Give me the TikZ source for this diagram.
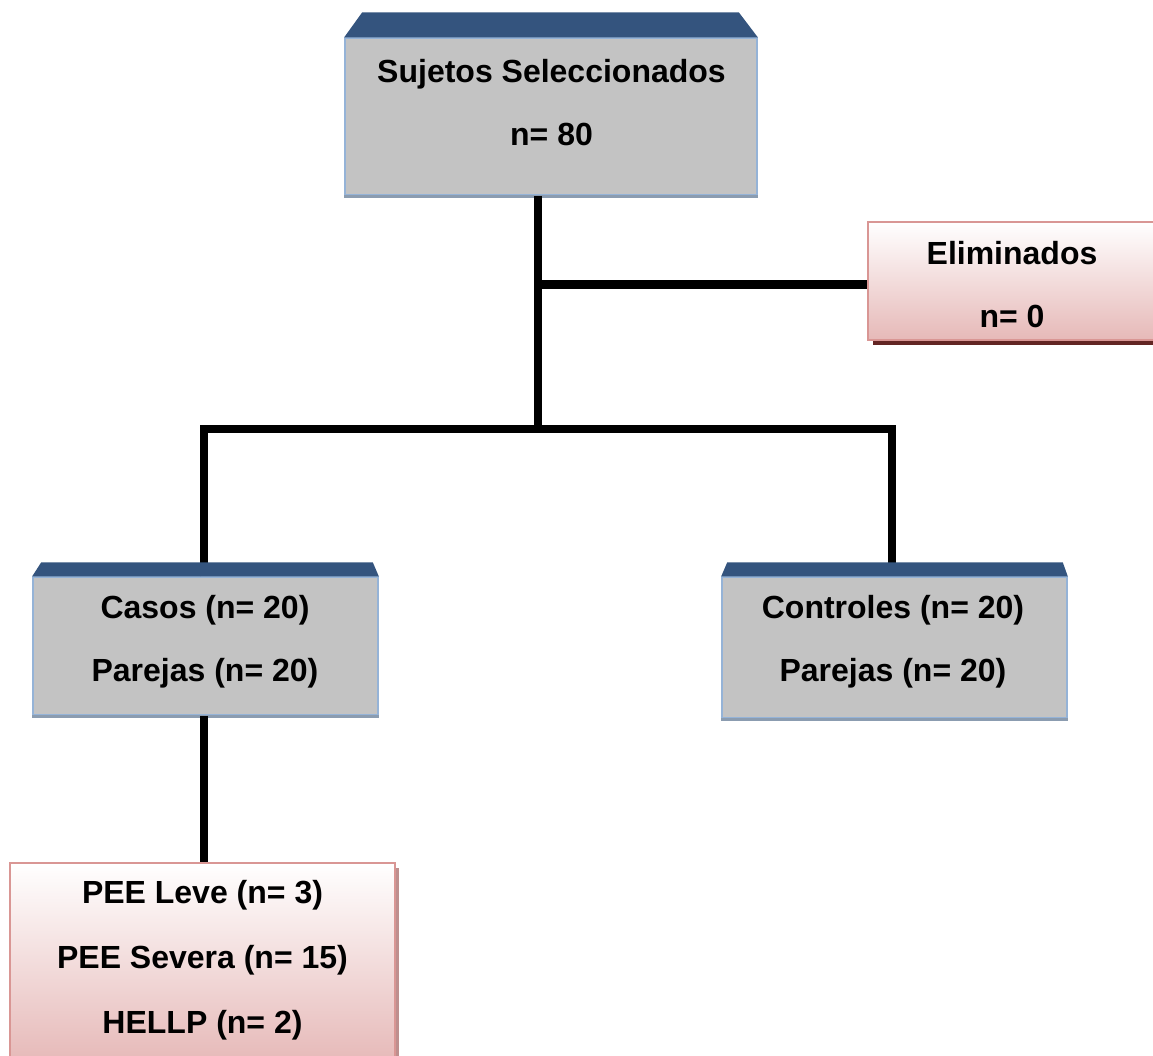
\documentclass[tikz,border=0pt]{standalone}
\usepackage{fontspec}
\setmainfont{Liberation Sans}
\usetikzlibrary{calc}
\definecolor{navy}{HTML}{34547E}
\definecolor{grayfill}{HTML}{C3C3C3}
\definecolor{blueedge}{HTML}{95B3D7}
\definecolor{pinkfill}{HTML}{E6B9B8}
\definecolor{pinkedge}{HTML}{D99694}
\definecolor{darkred}{HTML}{632523}
\begin{document}
\begin{tikzpicture}[x=1pt,y=-1pt,
  graybox/.style={draw=blueedge, line width=1.5pt, fill=grayfill, rectangle, inner sep=0pt},
  pinkbox/.style={draw=pinkedge, line width=1.5pt, top color=white, bottom color=pinkfill, rectangle, inner sep=0pt},
  lbl/.style={anchor=base, inner sep=0pt, font=\fontsize{32}{38}\selectfont\bfseries},
  conn/.style={line width=8.5pt, black, line join=miter}]
\useasboundingbox (0,0) rectangle (1153,1055);

% connector junction coordinates
\coordinate (j1) at (538,284.5);
\coordinate (j2) at (538,429);
\coordinate (cl) at (204,429);
\coordinate (cr) at (892,429);

% shadows (behind boxes)
\fill[darkred] (873,335) rectangle (1160,345);
\fill[pinkedge!70!gray] (390,868) rectangle (399,1060);

% boxes
\node[graybox, minimum width=412pt, minimum height=157pt] (top) at (551,116.5) {};
\node[pinkbox, minimum width=292pt, minimum height=118pt] (elim) at (1014,281) {};
\node[graybox, minimum width=345pt, minimum height=138pt] (casos) at (205.5,646) {};
\node[graybox, minimum width=345pt, minimum height=141pt] (ctrl) at (894.5,647.5) {};
\node[pinkbox, minimum width=385pt, minimum height=200pt] (pee) at (202.5,963) {};

% bottom edge shading of gray boxes
\fill[blueedge!55!gray] ($(top.south west)+(0,-0.5)$) rectangle ($(top.south east)+(0,2)$);
\fill[blueedge!55!gray] ($(casos.south west)+(0,-0.5)$) rectangle ($(casos.south east)+(0,2)$);
\fill[blueedge!55!gray] ($(ctrl.south west)+(0,-0.5)$) rectangle ($(ctrl.south east)+(0,2)$);

% connectors
\draw[conn] (top.south -| j1) -- (j2);
\draw[conn] (j1) -- (elim.west |- j1);
\draw[conn] (casos.north -| cl) -- (cl) -- (cr) -- (ctrl.north -| cr);
\draw[conn] (casos.south -| cl) -- (pee.north -| cl);

% trapezoid caps
\fill[navy] (top.north west) -- ++(18,-25) -- ($(top.north east)+(-19,-25)$) -- (top.north east) -- cycle;
\fill[navy] (casos.north west) -- ++(9,-14) -- ($(casos.north east)+(-6,-14)$) -- (casos.north east) -- cycle;
\fill[navy] (ctrl.north west) -- ++(6,-14) -- ($(ctrl.north east)+(-5,-14)$) -- (ctrl.north east) -- cycle;

% texts
\node[lbl] (t1) at (551.5,82) {Sujetos Seleccionados};
\node[lbl] (t2) at (551.5,145) {n= 80};
\node[lbl] (e1) at (1012,264) {Eliminados};
\node[lbl] (e2) at (1012,327) {n= 0};
\node[lbl] (c1) at (205,618) {Casos (n= 20)};
\node[lbl] (c2) at (205,681) {Parejas (n= 20)};
\node[lbl] (k1) at (893,618) {Controles (n= 20)};
\node[lbl] (k2) at (893,681) {Parejas (n= 20)};
\node[lbl] (p1) at (202.5,903) {PEE Leve (n= 3)};
\node[lbl] (p2) at (202.5,968) {PEE Severa (n= 15)};
\node[lbl] (p3) at (202.5,1033) {HELLP (n= 2)};
\end{tikzpicture}
\end{document}
